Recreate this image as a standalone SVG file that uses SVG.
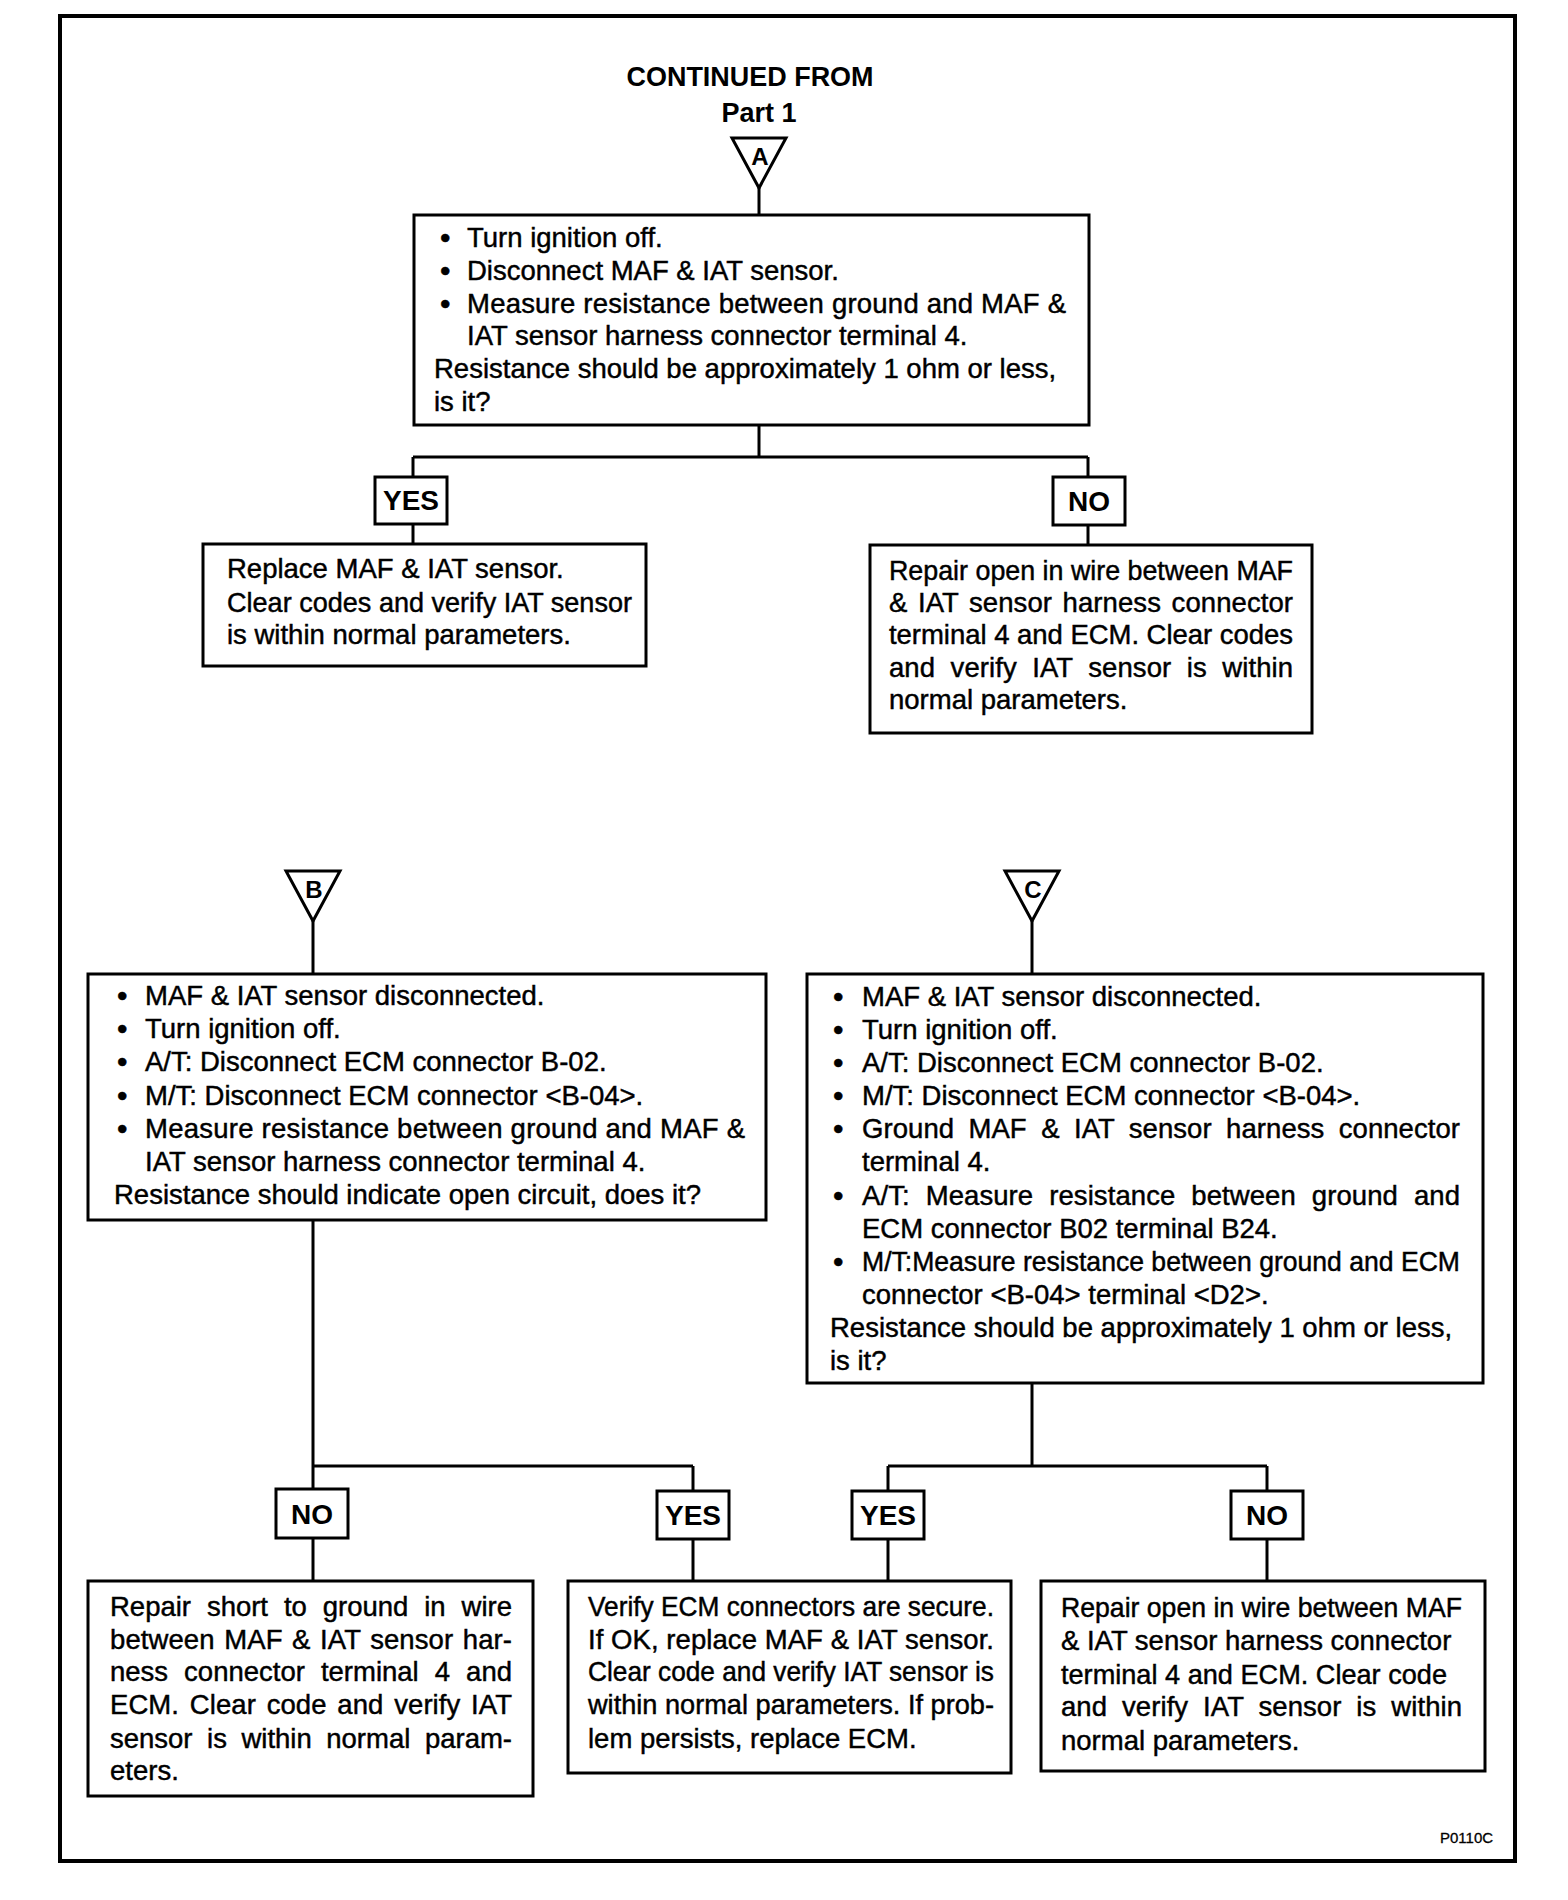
<svg xmlns="http://www.w3.org/2000/svg" width="1568" height="1900" viewBox="0 0 1568 1900">
<style>
.frame{fill:none;stroke:#000;stroke-width:4}
.box{fill:#fff;stroke:#000;stroke-width:3}
.tri{fill:#fff;stroke:#000;stroke-width:3;stroke-linejoin:miter}
.con line{stroke:#000;stroke-width:3}
text{font-family:"Liberation Sans",Arial,Helvetica,sans-serif;fill:#000}
.t{font-size:27.5px;stroke:#000;stroke-width:0.45px}
.bu{font-size:30px}
.lb{font-size:28px;font-weight:bold;text-anchor:middle}
.tl{font-size:24px;font-weight:bold;text-anchor:middle}
.hd{font-size:27px;font-weight:bold;text-anchor:middle}
.id{font-size:15px;stroke:#000;stroke-width:0.3px}
</style>
<rect class="frame" x="60" y="16" width="1455" height="1845"/>
<g id="title">
<text class="hd" x="750" y="86" textLength="247" lengthAdjust="spacingAndGlyphs">CONTINUED FROM</text>
<text class="hd" x="759" y="122">Part 1</text>
</g>
<g class="con" id="connectors">
<line x1="759" y1="188" x2="759" y2="215"/>
<line x1="759" y1="425" x2="759" y2="457"/>
<line x1="413" y1="457" x2="1088" y2="457"/>
<line x1="413" y1="457" x2="413" y2="477"/>
<line x1="1088" y1="457" x2="1088" y2="477"/>
<line x1="413" y1="524" x2="413" y2="544"/>
<line x1="1088" y1="525" x2="1088" y2="545"/>
<line x1="313" y1="921" x2="313" y2="974"/>
<line x1="1032" y1="921" x2="1032" y2="974"/>
<line x1="313" y1="1220" x2="313" y2="1489"/>
<line x1="313" y1="1466" x2="693" y2="1466"/>
<line x1="693" y1="1466" x2="693" y2="1491"/>
<line x1="313" y1="1538" x2="313" y2="1581"/>
<line x1="693" y1="1539" x2="693" y2="1581"/>
<line x1="1032" y1="1383" x2="1032" y2="1466"/>
<line x1="888" y1="1466" x2="1267" y2="1466"/>
<line x1="888" y1="1466" x2="888" y2="1491"/>
<line x1="1267" y1="1466" x2="1267" y2="1491"/>
<line x1="888" y1="1539" x2="888" y2="1581"/>
<line x1="1267" y1="1539" x2="1267" y2="1581"/>
</g>
<g id="conA">
<polygon class="tri" points="732,138 786,138 759,188"/>
<text class="tl" x="760" y="165">A</text>
</g>
<g id="conB">
<polygon class="tri" points="286,871 340,871 313,921"/>
<text class="tl" x="314" y="898">B</text>
</g>
<g id="conC">
<polygon class="tri" points="1005,871 1059,871 1032,921"/>
<text class="tl" x="1033" y="898">C</text>
</g>
<g id="step1">
<rect class="box" x="414" y="215" width="675" height="210"/>
<text class="t bu" x="440" y="248">•</text>
<text class="t" x="467" y="247">Turn ignition off.</text>
<text class="t bu" x="440" y="281">•</text>
<text class="t" x="467" y="280">Disconnect MAF &amp; IAT sensor.</text>
<text class="t bu" x="440" y="314">•</text>
<text class="t" x="467" y="313" textLength="599" lengthAdjust="spacing">Measure resistance between ground and MAF &amp;</text>
<text class="t" x="467" y="345">IAT sensor harness connector terminal 4.</text>
<text class="t" x="434" y="378">Resistance should be approximately 1 ohm or less,</text>
<text class="t" x="434" y="411">is it?</text>
</g>
<g id="yes1">
<rect class="box" x="375" y="477" width="72" height="47"/>
<text class="lb" x="411" y="510">YES</text>
</g>
<g id="no1">
<rect class="box" x="1053" y="477" width="72" height="48"/>
<text class="lb" x="1089" y="511">NO</text>
</g>
<g id="replace1">
<rect class="box" x="203" y="544" width="443" height="122"/>
<text class="t" x="227" y="578">Replace MAF &amp; IAT sensor.</text>
<text class="t" x="227" y="612" textLength="405" lengthAdjust="spacingAndGlyphs">Clear codes and verify IAT sensor</text>
<text class="t" x="227" y="644">is within normal parameters.</text>
</g>
<g id="repair1">
<rect class="box" x="870" y="545" width="442" height="188"/>
<text class="t" x="889" y="580" textLength="404" lengthAdjust="spacingAndGlyphs">Repair open in wire between MAF</text>
<text class="t" x="889" y="612" style="word-spacing:2.8px" textLength="404" lengthAdjust="spacing">&amp; IAT sensor harness connector</text>
<text class="t" x="889" y="644" textLength="404" lengthAdjust="spacing">terminal 4 and ECM. Clear codes</text>
<text class="t" x="889" y="677" style="word-spacing:7.8px" textLength="404" lengthAdjust="spacing">and verify IAT sensor is within</text>
<text class="t" x="889" y="709">normal parameters.</text>
</g>
<g id="stepB">
<rect class="box" x="88" y="974" width="678" height="246"/>
<text class="t bu" x="117" y="1006">•</text>
<text class="t" x="145" y="1005">MAF &amp; IAT sensor disconnected.</text>
<text class="t bu" x="117" y="1039">•</text>
<text class="t" x="145" y="1038">Turn ignition off.</text>
<text class="t bu" x="117" y="1072">•</text>
<text class="t" x="145" y="1071">A/T: Disconnect ECM connector B-02.</text>
<text class="t bu" x="117" y="1106">•</text>
<text class="t" x="145" y="1105">M/T: Disconnect ECM connector &lt;B-04&gt;.</text>
<text class="t bu" x="117" y="1139">•</text>
<text class="t" x="145" y="1138" textLength="600" lengthAdjust="spacing">Measure resistance between ground and MAF &amp;</text>
<text class="t" x="145" y="1171">IAT sensor harness connector terminal 4.</text>
<text class="t" x="114" y="1204">Resistance should indicate open circuit, does it?</text>
</g>
<g id="stepC">
<rect class="box" x="807" y="974" width="676" height="409"/>
<text class="t bu" x="833" y="1007">•</text>
<text class="t" x="862" y="1006">MAF &amp; IAT sensor disconnected.</text>
<text class="t bu" x="833" y="1040">•</text>
<text class="t" x="862" y="1039">Turn ignition off.</text>
<text class="t bu" x="833" y="1073">•</text>
<text class="t" x="862" y="1072">A/T: Disconnect ECM connector B-02.</text>
<text class="t bu" x="833" y="1106">•</text>
<text class="t" x="862" y="1105">M/T: Disconnect ECM connector &lt;B-04&gt;.</text>
<text class="t bu" x="833" y="1139">•</text>
<text class="t" x="862" y="1138" style="word-spacing:6.7px" textLength="598" lengthAdjust="spacing">Ground MAF &amp; IAT sensor harness connector</text>
<text class="t" x="862" y="1171">terminal 4.</text>
<text class="t bu" x="833" y="1206">•</text>
<text class="t" x="862" y="1205" style="word-spacing:8.3px" textLength="598" lengthAdjust="spacing">A/T: Measure resistance between ground and</text>
<text class="t" x="862" y="1238">ECM connector B02 terminal B24.</text>
<text class="t bu" x="833" y="1272">•</text>
<text class="t" x="862" y="1271" textLength="598" lengthAdjust="spacingAndGlyphs">M/T:Measure resistance between ground and ECM</text>
<text class="t" x="862" y="1304">connector &lt;B-04&gt; terminal &lt;D2&gt;.</text>
<text class="t" x="830" y="1337">Resistance should be approximately 1 ohm or less,</text>
<text class="t" x="830" y="1370">is it?</text>
</g>
<g id="no2">
<rect class="box" x="276" y="1489" width="72" height="49"/>
<text class="lb" x="312" y="1524">NO</text>
</g>
<g id="yes2">
<rect class="box" x="657" y="1491" width="72" height="48"/>
<text class="lb" x="693" y="1525">YES</text>
</g>
<g id="yes3">
<rect class="box" x="852" y="1491" width="72" height="48"/>
<text class="lb" x="888" y="1525">YES</text>
</g>
<g id="no3">
<rect class="box" x="1231" y="1491" width="72" height="48"/>
<text class="lb" x="1267" y="1525">NO</text>
</g>
<g id="repairShort">
<rect class="box" x="88" y="1581" width="445" height="215"/>
<text class="t" x="110" y="1616" style="word-spacing:8.3px" textLength="402" lengthAdjust="spacing">Repair short to ground in wire</text>
<text class="t" x="110" y="1649" style="word-spacing:1.8px" textLength="402" lengthAdjust="spacing">between MAF &amp; IAT sensor har-</text>
<text class="t" x="110" y="1681" style="word-spacing:8.4px" textLength="402" lengthAdjust="spacing">ness connector terminal 4 and</text>
<text class="t" x="110" y="1714" style="word-spacing:3.1px" textLength="402" lengthAdjust="spacing">ECM. Clear code and verify IAT</text>
<text class="t" x="110" y="1748" style="word-spacing:6.9px" textLength="402" lengthAdjust="spacing">sensor is within normal param-</text>
<text class="t" x="110" y="1780">eters.</text>
</g>
<g id="verifyECM">
<rect class="box" x="568" y="1581" width="443" height="192"/>
<text class="t" x="588" y="1616" textLength="406" lengthAdjust="spacingAndGlyphs">Verify ECM connectors are secure.</text>
<text class="t" x="588" y="1649" textLength="406" lengthAdjust="spacing">If OK, replace MAF &amp; IAT sensor.</text>
<text class="t" x="588" y="1681" textLength="406" lengthAdjust="spacingAndGlyphs">Clear code and verify IAT sensor is</text>
<text class="t" x="588" y="1714" textLength="406" lengthAdjust="spacingAndGlyphs">within normal parameters. If prob-</text>
<text class="t" x="588" y="1748">lem persists, replace ECM.</text>
</g>
<g id="repairOpen2">
<rect class="box" x="1041" y="1581" width="444" height="190"/>
<text class="t" x="1061" y="1617" textLength="401" lengthAdjust="spacingAndGlyphs">Repair open in wire between MAF</text>
<text class="t" x="1061" y="1650">&amp; IAT sensor harness connector</text>
<text class="t" x="1061" y="1684" textLength="386" lengthAdjust="spacingAndGlyphs">terminal 4 and ECM. Clear code</text>
<text class="t" x="1061" y="1716" style="word-spacing:7.2px" textLength="401" lengthAdjust="spacing">and verify IAT sensor is within</text>
<text class="t" x="1061" y="1750">normal parameters.</text>
</g>
<text class="id" x="1440" y="1843">P0110C</text>
</svg>
